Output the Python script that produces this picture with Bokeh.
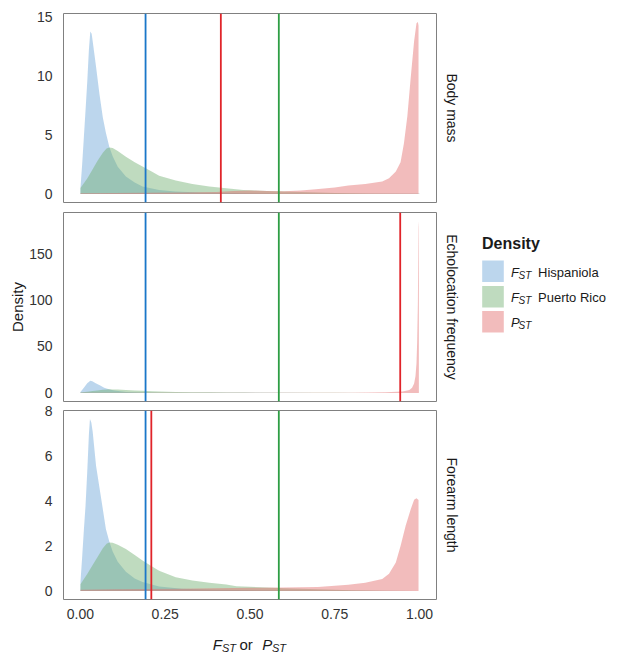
from bokeh.plotting import figure
from bokeh.layouts import column, row
from bokeh.models import Range1d, FixedTicker, PrintfTickFormatter, Title, Span
from bokeh.embed import file_html
from bokeh.resources import INLINE
from bokeh.core.properties import value

FONT = "Liberation Sans"

# ---------------- data ----------------
traits = ["Body mass", "Echolocation frequency", "Forearm length"]

# Body mass
bm_hisp_x = [0.0, 0.005, 0.01, 0.015, 0.02, 0.025, 0.029, 0.033, 0.036, 0.046, 0.056, 0.066, 0.075, 0.085,
             0.095, 0.11, 0.134, 0.16, 0.183, 0.232, 0.28, 0.35, 0.45, 0.6, 0.8, 1.0]
bm_hisp_y = [0.5, 2.5, 4.8, 7.1, 9.5, 12.3, 13.8, 13.6, 13.0, 10.8, 8.5, 6.5, 5.2, 4.0,
             3.2, 2.3, 1.47, 0.96, 0.62, 0.34, 0.2, 0.12, 0.07, 0.04, 0.02, 0.01]
bm_prico_x = [0.0, 0.02, 0.036, 0.05, 0.066, 0.077, 0.085, 0.095, 0.11, 0.134, 0.16, 0.183, 0.21, 0.232,
              0.281, 0.33, 0.38, 0.43, 0.48, 0.55, 0.65, 0.75, 0.85, 1.0]
bm_prico_y = [0.5, 1.3, 2.1, 2.8, 3.5, 3.85, 3.95, 3.9, 3.65, 3.16, 2.7, 2.32, 1.9, 1.55,
              1.13, 0.85, 0.62, 0.48, 0.34, 0.25, 0.16, 0.08, 0.03, 0.01]
bm_pst_x = [0.0, 0.1, 0.2, 0.3, 0.4, 0.45, 0.5, 0.55, 0.6, 0.65, 0.694, 0.75, 0.79, 0.84, 0.89, 0.91,
            0.93, 0.944, 0.954, 0.964, 0.974, 0.984, 0.991, 0.995, 0.997]
bm_pst_y = [0.05, 0.07, 0.09, 0.12, 0.17, 0.25, 0.3, 0.24, 0.22, 0.3, 0.4, 0.55, 0.71, 0.85, 1.05, 1.33,
            1.9, 2.7, 4.3, 6.6, 9.9, 13.0, 14.5, 14.6, 14.3]

# Echolocation frequency
ec_hisp_x = [0.0, 0.01, 0.02, 0.029, 0.035, 0.045, 0.057, 0.07, 0.086, 0.1, 0.135, 0.16, 0.183, 0.23,
             0.3, 0.4, 0.5, 0.7, 1.0]
ec_hisp_y = [1.0, 5.5, 10.5, 13.0, 12.6, 10.5, 8.3, 5.6, 3.6, 2.7, 1.1, 0.8, 0.55, 0.3,
             0.15, 0.07, 0.04, 0.02, 0.0]
ec_prico_x = [0.0, 0.02, 0.036, 0.05, 0.066, 0.077, 0.085, 0.095, 0.11, 0.134, 0.16, 0.183, 0.21, 0.232,
              0.281, 0.33, 0.38, 0.43, 0.48, 0.55, 0.65, 0.75, 0.85, 1.0]
ec_prico_y = [0.5, 1.2, 2.0, 2.7, 3.4, 3.75, 3.85, 3.8, 3.55, 3.1, 2.6, 2.25, 1.85, 1.5,
              1.1, 0.82, 0.6, 0.46, 0.33, 0.24, 0.15, 0.08, 0.03, 0.01]
ec_pst_x = [0.0, 0.2, 0.4, 0.6, 0.8, 0.9, 0.95, 0.97, 0.978, 0.984, 0.988, 0.991, 0.993, 0.995, 0.996,
            0.997, 0.998]
ec_pst_y = [0.05, 0.1, 0.15, 0.2, 0.3, 0.6, 1.5, 3.0, 5.5, 10.0, 18.0, 32.0, 55.0, 95.0, 140.0,
            178.0, 185.0]

# Forearm length
fa_hisp_x = [0.0, 0.005, 0.01, 0.015, 0.02, 0.025, 0.028, 0.032, 0.036, 0.046, 0.056, 0.066, 0.075, 0.085,
             0.095, 0.11, 0.134, 0.16, 0.183, 0.232, 0.3, 0.4, 0.6, 0.8, 1.0]
fa_hisp_y = [0.4, 1.5, 2.7, 3.8, 5.3, 7.0, 7.65, 7.5, 7.1, 5.57, 4.6, 3.64, 2.76, 2.2,
             1.75, 1.3, 0.85, 0.55, 0.4, 0.2, 0.1, 0.05, 0.02, 0.01, 0.0]
fa_prico_x = [0.0, 0.02, 0.036, 0.05, 0.066, 0.077, 0.085, 0.095, 0.11, 0.134, 0.16, 0.183, 0.21, 0.232,
              0.281, 0.33, 0.38, 0.43, 0.46, 0.5, 0.6, 0.7, 0.8, 0.9, 1.0]
fa_prico_y = [0.3, 0.75, 1.15, 1.5, 1.9, 2.1, 2.16, 2.14, 2.05, 1.87, 1.6, 1.35, 1.1, 0.9,
              0.61, 0.46, 0.36, 0.28, 0.21, 0.18, 0.12, 0.07, 0.03, 0.01, 0.0]
fa_pst_x = [0.0, 0.1, 0.2, 0.3, 0.4, 0.5, 0.6, 0.7, 0.79, 0.84, 0.89, 0.91, 0.93, 0.944, 0.959, 0.974,
            0.984, 0.991, 0.997]
fa_pst_y = [0.05, 0.07, 0.09, 0.1, 0.12, 0.14, 0.15, 0.17, 0.27, 0.36, 0.53, 0.76, 1.27, 2.0, 2.9, 3.64,
            4.06, 4.12, 4.05]

fst_hisp_line = [0.192, 0.192, 0.192]
fst_prico_line = [0.585, 0.585, 0.585]
pst_line = [0.414, 0.943, 0.209]

y_ticks = [[0, 5, 10, 15], [0, 50, 100, 150], [0, 2, 4, 6, 8]]
x_ticks = [0.0, 0.25, 0.5, 0.75, 1.0]

legend_labels = ["Hispaniola", "Puerto Rico", ""]
legend_symbols = ["F", "F", "P"]

panels_data = [
    (bm_hisp_x, bm_hisp_y, bm_prico_x, bm_prico_y, bm_pst_x, bm_pst_y),
    (ec_hisp_x, ec_hisp_y, ec_prico_x, ec_prico_y, ec_pst_x, ec_pst_y),
    (fa_hisp_x, fa_hisp_y, fa_prico_x, fa_prico_y, fa_pst_x, fa_pst_y),
]

# ---------------- style ----------------
FILL = ["#6aa3d6", "#72b072", "#e36a6a"]
FILL_ALPHA = 0.45
LINE = ["#1a77c9", "#2e9e44", "#e0242a"]
TICK_COLOR = "#333333"
TEXT_COLOR = "#1a1a1a"

FRAME_W, FRAME_H = 373, 189
LEFT, RIGHT = 63, 32
TOPS = [13, 5, 8]
BOTTOMS = [5, 1, 20]
TOTAL_H = 650
X_LO, X_HI = -0.05, 1.05

figs = []
for i, (hx, hy, gx, gy, px, py) in enumerate(panels_data):
    ymax = max(max(hy), max(gy), max(py))
    last = (i == 2)
    p = figure(frame_width=FRAME_W, frame_height=FRAME_H,
               x_range=Range1d(X_LO, X_HI),
               y_range=Range1d(-0.05 * ymax, 1.05 * ymax),
               output_backend="svg", toolbar_location=None,
               min_border_left=LEFT, min_border_right=RIGHT,
               min_border_top=TOPS[i], min_border_bottom=BOTTOMS[i])
    p.grid.visible = False
    p.outline_line_color = "#808080"
    p.outline_line_width = 1
    p.background_fill_color = "white"
    p.border_fill_color = "white"

    for (xs, ys), fc in zip([(hx, hy), (gx, gy), (px, py)], FILL):
        p.varea(x=xs, y1=0, y2=ys, fill_color=fc, fill_alpha=FILL_ALPHA)

    for loc, lc in zip([fst_hisp_line[i], fst_prico_line[i], pst_line[i]], LINE):
        p.add_layout(Span(location=loc, dimension="height", line_color=lc, line_width=1.8))

    p.yaxis.ticker = FixedTicker(ticks=y_ticks[i])
    p.yaxis.axis_line_color = None
    p.yaxis.major_tick_line_color = None
    p.yaxis.minor_tick_line_color = None
    p.yaxis.major_label_text_font = FONT
    p.yaxis.major_label_text_font_size = "14px"
    p.yaxis.major_label_text_color = TICK_COLOR
    p.yaxis.major_label_standoff = 5
    if i == 1:
        p.yaxis.axis_label = "Density"
        p.yaxis.axis_label_text_font = FONT
        p.yaxis.axis_label_text_font_size = "15px"
        p.yaxis.axis_label_text_font_style = "normal"
        p.yaxis.axis_label_text_color = TEXT_COLOR
        p.yaxis.axis_label_standoff = 0

    if last:
        p.xaxis.ticker = FixedTicker(ticks=x_ticks)
        p.xaxis.formatter = PrintfTickFormatter(format="%.2f")
        p.xaxis.axis_line_color = None
        p.xaxis.major_tick_line_color = None
        p.xaxis.minor_tick_line_color = None
        p.xaxis.major_label_text_font = FONT
        p.xaxis.major_label_text_font_size = "14px"
        p.xaxis.major_label_text_color = TICK_COLOR
        p.xaxis.major_label_standoff = 3
    else:
        p.xaxis.visible = False

    p.add_layout(Title(text=traits[i], align="center", text_font=FONT, text_font_size="14px",
                       text_font_style="normal", text_color=TEXT_COLOR, standoff=14), "right")
    figs.append(p)

# x-axis title strip: same horizontal mapping as the panels (rich text: italic + subscripts)
used_h = sum(t + FRAME_H + b for t, b in zip(TOPS, BOTTOMS))
xl_h = TOTAL_H - used_h
pxl = figure(frame_width=FRAME_W, frame_height=xl_h, x_range=Range1d(X_LO, X_HI),
             y_range=Range1d(xl_h, 0), x_axis_type=None, y_axis_type=None,
             output_backend="svg", toolbar_location=None,
             min_border_left=LEFT, min_border_right=RIGHT, min_border_top=0, min_border_bottom=0)
pxl.grid.visible = False
pxl.outline_line_color = None


def to_x(page_x):
    return X_LO + (page_x - LEFT) / FRAME_W * (X_HI - X_LO)


base = xl_h - 8
pxl.text(x=[to_x(212.3), to_x(261.7)], y=[base, base], text=["F", "P"], text_font=value(FONT),
         text_font_style="italic", text_font_size="15px", text_color=TEXT_COLOR,
         text_baseline="alphabetic", text_align="left")
pxl.text(x=[to_x(221.5), to_x(271.5)], y=[base + 3, base + 3], text=["ST", "ST"], text_font=value(FONT),
         text_font_style="italic", text_font_size="11px", text_color=TEXT_COLOR,
         text_baseline="alphabetic", text_align="left")
pxl.text(x=[to_x(239.0)], y=[base], text=["or"], text_font=value(FONT), text_font_size="15px",
         text_color=TEXT_COLOR, text_baseline="alphabetic", text_align="left")

# legend (figure coordinates equal page pixels offset by the panel width)
panel_w = LEFT + FRAME_W + RIGHT
LEG_W = 148
leg = figure(width=LEG_W, height=TOTAL_H, x_range=Range1d(0, LEG_W), y_range=Range1d(TOTAL_H, 0),
             x_axis_type=None, y_axis_type=None, output_backend="svg", toolbar_location=None,
             min_border=0)
leg.grid.visible = False
leg.outline_line_color = None
ox = panel_w
leg.text(x=[481.5 - ox], y=[243], text=["Density"], text_font=value(FONT), text_font_style="bold",
         text_font_size="16px", text_color=TEXT_COLOR, text_baseline="middle")
key_y = [270.8, 296.2, 321.2]
leg.rect(x=[492.5 - ox] * 3, y=key_y, width=21.6, height=21.4, fill_color=FILL, fill_alpha=FILL_ALPHA,
         line_color=None)
leg.text(x=[510.5 - ox] * 3, y=[k + 1 for k in key_y], text=legend_symbols, text_font=value(FONT),
         text_font_style="italic", text_font_size="13px", text_color=TEXT_COLOR,
         text_baseline="middle")
leg.text(x=[518.0 - ox] * 3, y=[k + 4 for k in key_y], text=["ST"] * 3, text_font=value(FONT),
         text_font_style="italic", text_font_size="10px", text_color=TEXT_COLOR,
         text_baseline="middle")
leg.text(x=[537.5 - ox] * 3, y=[k + 1 for k in key_y], text=legend_labels, text_font=value(FONT),
         text_font_size="13px", text_color=TEXT_COLOR, text_baseline="middle")

layout = row(column(*figs, pxl), leg)
open("out.html", "w").write(file_html(layout, INLINE))
